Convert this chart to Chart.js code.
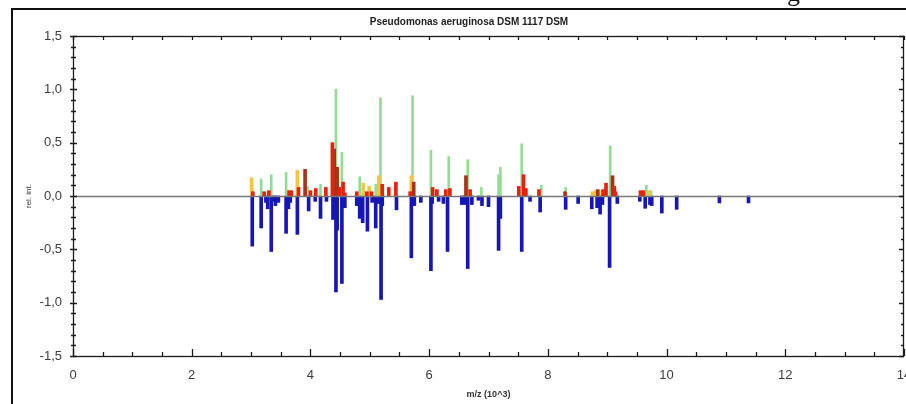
<!DOCTYPE html>
<html>
<head>
<meta charset="utf-8">
<script src="https://cdn.jsdelivr.net/npm/chart.js@4/dist/chart.umd.min.js"></script>
<style>
  html, body { margin: 0; padding: 0; background: #fff; }
  #wrap { width: 906px; height: 404px; position: relative; }
</style>
</head>
<body>
<div id="wrap"><canvas id="spec"></canvas></div>
<script>
// Peak lists: [m/z in 10^3, relative intensity]
const greenPeaks = [
  [3.17, 0.16], [3.34, 0.20], [3.59, 0.22], [3.95, 0.09], [4.17, 0.11],
  [4.43, 1.00], [4.53, 0.41], [4.83, 0.18], [5.10, 0.11], [5.18, 0.92],
  [5.72, 0.94], [6.03, 0.43], [6.33, 0.37], [6.65, 0.34], [6.88, 0.08],
  [7.17, 0.20], [7.20, 0.27], [7.56, 0.49], [7.89, 0.10], [8.30, 0.08],
  [9.05, 0.47], [9.66, 0.10], [9.74, 0.05],
];
const yellowPeaks = [
  [3.01, 0.17], [3.78, 0.24], [4.89, 0.12], [4.99, 0.09], [5.15, 0.19],
  [5.70, 0.19], [8.75, 0.04], [8.80, 0.05], [8.86, 0.05], [9.70, 0.05],
];
const redPeaks = [
  [3.03, 0.04], [3.22, 0.04], [3.30, 0.05], [3.64, 0.05], [3.68, 0.05],
  [3.80, 0.08], [4.00, 0.05], [4.09, 0.07], [4.26, 0.08], [4.37, 0.50],
  [4.49, 0.08], [4.55, 0.13], [4.58, 0.03], [4.78, 0.04], [4.95, 0.04],
  [5.03, 0.04], [5.21, 0.11], [5.32, 0.08], [5.44, 0.13], [5.68, 0.04],
  [6.06, 0.08], [6.13, 0.06], [6.28, 0.06], [6.35, 0.07], [6.69, 0.06],
  [7.51, 0.09], [7.59, 0.20], [7.63, 0.07], [7.85, 0.06], [8.93, 0.06],
  [8.98, 0.12], [9.12, 0.09], [9.14, 0.04], [9.56, 0.05], [9.61, 0.05],
];
const darkRedPeaks = [
  [3.91, 0.25], [4.40, 0.44], [4.45, 0.27], [5.74, 0.13], [6.62, 0.19],
  [8.29, 0.04], [8.84, 0.06], [9.09, 0.19],
];
const bluePeaks = [
  [3.02, -0.47], [3.17, -0.30], [3.25, -0.06], [3.28, -0.12], [3.34, -0.52],
  [3.38, -0.05], [3.41, -0.09], [3.46, -0.06], [3.59, -0.35], [3.63, -0.12],
  [3.66, -0.06], [3.78, -0.36], [3.97, -0.14], [4.08, -0.05], [4.17, -0.21],
  [4.27, -0.05], [4.38, -0.22], [4.43, -0.90], [4.45, -0.32], [4.53, -0.82],
  [4.58, -0.11], [4.78, -0.09], [4.83, -0.21], [4.88, -0.25], [4.96, -0.33],
  [5.04, -0.06], [5.10, -0.30], [5.14, -0.07], [5.19, -0.97], [5.21, -0.09],
  [5.45, -0.13], [5.70, -0.58], [5.72, -0.09], [5.75, -0.09], [5.86, -0.06],
  [6.03, -0.70], [6.05, -0.07], [6.16, -0.05], [6.24, -0.07], [6.31, -0.52],
  [6.55, -0.08], [6.60, -0.08], [6.65, -0.68], [6.72, -0.08], [6.83, -0.04],
  [6.89, -0.09], [7.00, -0.10], [7.17, -0.51], [7.20, -0.21], [7.56, -0.52],
  [7.70, -0.05], [7.87, -0.15], [8.30, -0.125], [8.51, -0.07], [8.74, -0.12],
  [8.83, -0.11], [8.88, -0.17], [8.92, -0.08], [9.04, -0.67], [9.17, -0.07],
  [9.55, -0.05], [9.64, -0.115], [9.72, -0.08], [9.75, -0.09], [9.92, -0.16],
  [10.17, -0.125], [10.89, -0.065], [11.38, -0.065],
];

const X_MIN = 0, X_MAX = 14, X_MAJOR = 2, X_MINOR = 0.5;
const Y_MIN = -1.5, Y_MAX = 1.5, Y_MAJOR = 0.5, Y_MINOR = 0.1;

const TITLE = 'Pseudomonas aeruginosa DSM 1117 DSM';
const X_TITLE = 'm/z (10^3)';
const Y_TITLE = 'rel. int.';

const SANS = "'Liberation Sans', Arial, sans-serif";
const C = {
  green:   '#93dc93',
  yellow:  '#f4c542',
  red:     '#e4230c',
  darkRed: '#a8321a',
  blue:    '#1616b4',
  zero:    '#777777',
  axis:    '#1a1a1a',
  label:   '#3c3c3c',
};

const toXY = list => list.map(([x, y]) => ({ x, y }));

function peakSet(label, list, color, width) {
  return {
    label,
    data: toXY(list),
    backgroundColor: color,
    borderWidth: 0,
    barThickness: width,
    grouped: false,
  };
}

// frame, heading, zero line and the inward tick box
const decor = {
  id: 'decor',
  beforeDraw(chart) {
    const { ctx, width, height } = chart;
    ctx.save();
    ctx.fillStyle = '#fff';
    ctx.fillRect(0, 0, width, height);
    ctx.strokeStyle = '#111';
    ctx.lineWidth = 2;
    ctx.beginPath();
    ctx.moveTo(12, height);
    ctx.lineTo(12, 9);
    ctx.lineTo(width, 9);
    ctx.stroke();
    // tail of a heading that runs above the frame
    ctx.fillStyle = '#111';
    ctx.font = "26px 'Liberation Serif', serif";
    ctx.textAlign = 'left';
    ctx.textBaseline = 'alphabetic';
    ctx.fillText('g', 787, 1);
    ctx.fillStyle = '#222';
    ctx.font = `bold 10px ${SANS}`;
    ctx.textAlign = 'center';
    ctx.textBaseline = 'middle';
    ctx.fillText(TITLE, 469, 22);
    ctx.restore();
  },
  afterDatasetsDraw(chart) {
    const { ctx, chartArea: a, scales: { y } } = chart;
    const y0 = Math.round(y.getPixelForValue(0)) + 0.5;
    ctx.save();
    ctx.strokeStyle = C.zero;
    ctx.lineWidth = 1.6;
    ctx.beginPath();
    ctx.moveTo(a.left, y0);
    ctx.lineTo(a.right, y0);
    ctx.stroke();
    ctx.restore();
  },
  afterDraw(chart) {
    const { ctx, chartArea: a, scales: { x, y } } = chart;
    ctx.save();
    ctx.strokeStyle = C.axis;
    ctx.lineWidth = 1.3;
    ctx.strokeRect(a.left + 0.5, a.top + 0.5, a.right - a.left - 1, a.bottom - a.top);
    ctx.beginPath();
    for (let v = X_MIN; v <= X_MAX + 1e-9; v += X_MINOR) {
      const px = Math.round(x.getPixelForValue(v)) + 0.5;
      const major = Math.abs(v / X_MAJOR - Math.round(v / X_MAJOR)) < 1e-6;
      ctx.moveTo(px, a.bottom);
      ctx.lineTo(px, a.bottom - (major ? 7 : 4));
      ctx.moveTo(px, a.top);
      ctx.lineTo(px, a.top + 4);
    }
    for (let v = Y_MIN; v <= Y_MAX + 1e-9; v += Y_MINOR) {
      const py = Math.round(y.getPixelForValue(v)) + 0.5;
      const major = Math.abs(v / Y_MAJOR - Math.round(v / Y_MAJOR)) < 1e-6;
      ctx.moveTo(a.left - (major ? 3 : 2), py);
      ctx.lineTo(a.left + (major ? 4 : 3), py);
      ctx.moveTo(a.right, py);
      ctx.lineTo(a.right - (major ? 5 : 3), py);
    }
    ctx.stroke();
    ctx.restore();
  },
};

new Chart(document.getElementById('spec'), {
  type: 'bar',
  data: {
    datasets: [
      peakSet('red', redPeaks, C.red, 3),
      peakSet('dark red', darkRedPeaks, C.darkRed, 3),
      peakSet('yellow', yellowPeaks, C.yellow, 3),
      peakSet('green', greenPeaks, C.green, 2),
      peakSet('blue', bluePeaks, C.blue, 3),
    ],
  },
  options: {
    responsive: true,
    maintainAspectRatio: false,
    animation: false,
    layout: { padding: { top: 36, right: 2, bottom: 0, left: 0 } },
    plugins: { legend: { display: false }, tooltip: { enabled: false } },
    scales: {
      x: {
        type: 'linear',
        offset: false,
        min: X_MIN,
        max: X_MAX,
        grid: { display: false, drawTicks: false },
        border: { display: false },
        ticks: {
          stepSize: X_MAJOR,
          padding: 12,
          maxRotation: 0,
          color: C.label,
          font: { family: SANS, size: 13 },
          callback: v => String(v),
        },
        title: {
          display: true,
          text: X_TITLE,
          color: '#333',
          font: { family: SANS, size: 9, weight: 'bold' },
          padding: { top: 0, bottom: 4 },
        },
        afterFit(s) { s.height = 48; s.paddingLeft = 0; s.paddingRight = 0; },
      },
      y: {
        min: Y_MIN,
        max: Y_MAX,
        grid: { display: false, drawTicks: false },
        border: { display: false },
        ticks: {
          stepSize: Y_MAJOR,
          padding: 11,
          color: C.label,
          font: { family: SANS, size: 13 },
          callback: v => v.toFixed(1).replace('.', ','),
        },
        title: {
          display: true,
          text: Y_TITLE,
          color: '#333',
          font: { family: SANS, size: 8 },
          padding: { top: 24, bottom: 0 },
        },
        afterFit(s) { s.width = 73; s.paddingTop = 0; s.paddingBottom = 0; },
      },
    },
  },
  plugins: [decor],
});
</script>
</body>
</html>
